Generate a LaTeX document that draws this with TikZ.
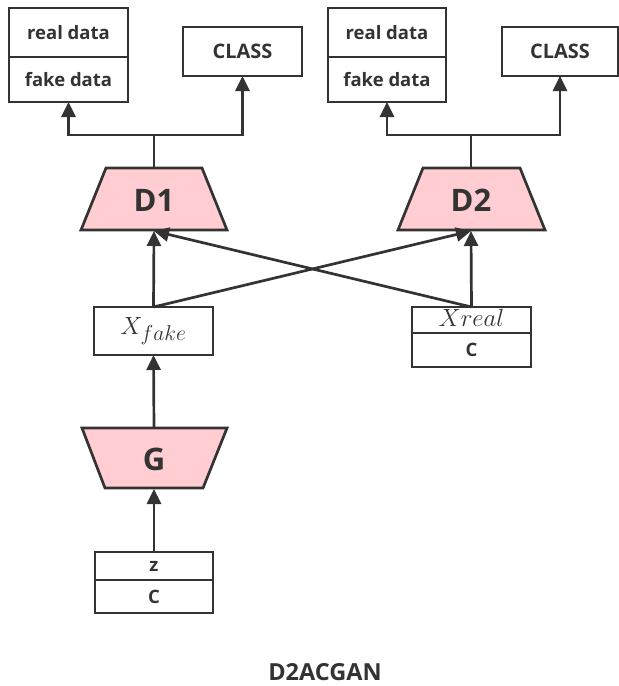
\documentclass[tikz,border=0pt]{standalone}
\usepackage{fontspec}
\setmainfont{Open Sans}
\usetikzlibrary{arrows.meta}
\definecolor{ln}{RGB}{51,51,51}
\definecolor{pinkf}{RGB}{255,205,210}
\tikzset{
  cell/.style={draw=ln,line width=2.7pt,fill=white,inner sep=0pt,outer sep=0pt,text=ln,font=\bfseries\fontsize{18.5}{18.5}\selectfont},
  trap/.style={draw=ln,line width=2.7pt,fill=pinkf,line join=miter},
  lbl/.style={inner sep=0pt,text=ln,font=\bfseries\fontsize{31}{31}\selectfont},
  conn/.style={draw=ln,line width=2.7pt,-{Triangle[length=15pt,width=14pt]}},
  plain/.style={draw=ln,line width=2.7pt}
}
\begin{document}
\begin{tikzpicture}[x=1pt,y=-1pt]
\useasboundingbox (0,0) rectangle (619,686);
% top-left outputs
\node[cell,minimum width=119pt,minimum height=49pt] (rd1) at (68.5,32.5) {real data};
\node[cell,minimum width=119pt,minimum height=45pt] (fd1) at (68.5,79.5) {fake data};
\node[cell,minimum width=119pt,minimum height=49pt,font=\bfseries\fontsize{20}{20}\selectfont] (cl1) at (242.5,51.5) {CLASS};
% top-right outputs
\node[cell,minimum width=118pt,minimum height=49pt] (rd2) at (387,32.5) {real data};
\node[cell,minimum width=118pt,minimum height=45pt] (fd2) at (387,79.5) {fake data};
\node[cell,minimum width=116pt,minimum height=49pt,font=\bfseries\fontsize{20}{20}\selectfont] (cl2) at (560,51.5) {CLASS};
% D1
\draw[trap] (106,168) -- (202,168) -- (227,230) -- (81,230) -- cycle;
\node[lbl] (D1) at (154,200) {D1};
\coordinate (D1t) at (154,168);
\coordinate (D1b) at (154,231);
% D2
\draw[trap] (423,168) -- (520,168) -- (545,230) -- (398,230) -- cycle;
\node[lbl] (D2) at (471,200) {D2};
\coordinate (D2t) at (471,168);
\coordinate (D2b) at (471,231);
% split points
\coordinate (s1) at (154,135);
\coordinate (s2) at (471,135);
\draw[plain] (D1t) -- (s1);
\draw[conn] (s1) -| (fd1.south);
\draw[conn] (s1) -| (cl1.south);
\draw[plain] (D2t) -- (s2);
\draw[conn] (s2) -| (fd2.south);
\draw[conn] (s2) -| (cl2.south);
% X fake
\node[cell,minimum width=119pt,minimum height=48pt,font=\fontsize{23}{23}\selectfont] (xf) at (153.5,331) {$X_{\scalebox{1.25}{$\scriptstyle fake$}}$};
% X real / C
\node[cell,minimum width=119pt,minimum height=26pt,font=\fontsize{25}{25}\selectfont] (xr) at (471.5,320) {};
\node[text=ln,inner sep=0pt,font=\fontsize{25}{25}\selectfont] (xrt) at (471.5,318) {$Xreal$};
\node[cell,minimum width=119pt,minimum height=34pt] (cr) at (471.5,350) {C};
% connections to D
\draw[conn] (xf.north) -- (D1b);
\draw[conn] (xf.north) -- (D2b);
\draw[conn] (xr.north) -- (D2b);
\draw[conn] (xr.north) -- (D1b);
% G
\draw[trap] (82,428) -- (227,428) -- (203,488) -- (105,488) -- cycle;
\node[lbl] (G) at (154,459) {G};
\coordinate (Gt) at (154,428);
\coordinate (Gb) at (154,489);
\draw[conn] (Gt) -- (xf.south);
% z / C
\node[cell,minimum width=118pt,minimum height=28pt] (zz) at (154,566) {z};
\node[cell,minimum width=118pt,minimum height=33pt] (cz) at (154,596.5) {C};
\draw[conn] (zz.north) -- (Gb);
% title
\node[text=ln,font=\bfseries\fontsize{23.5}{23.5}\selectfont] (title) at (325,672) {D2ACGAN};
\end{tikzpicture}
\end{document}
